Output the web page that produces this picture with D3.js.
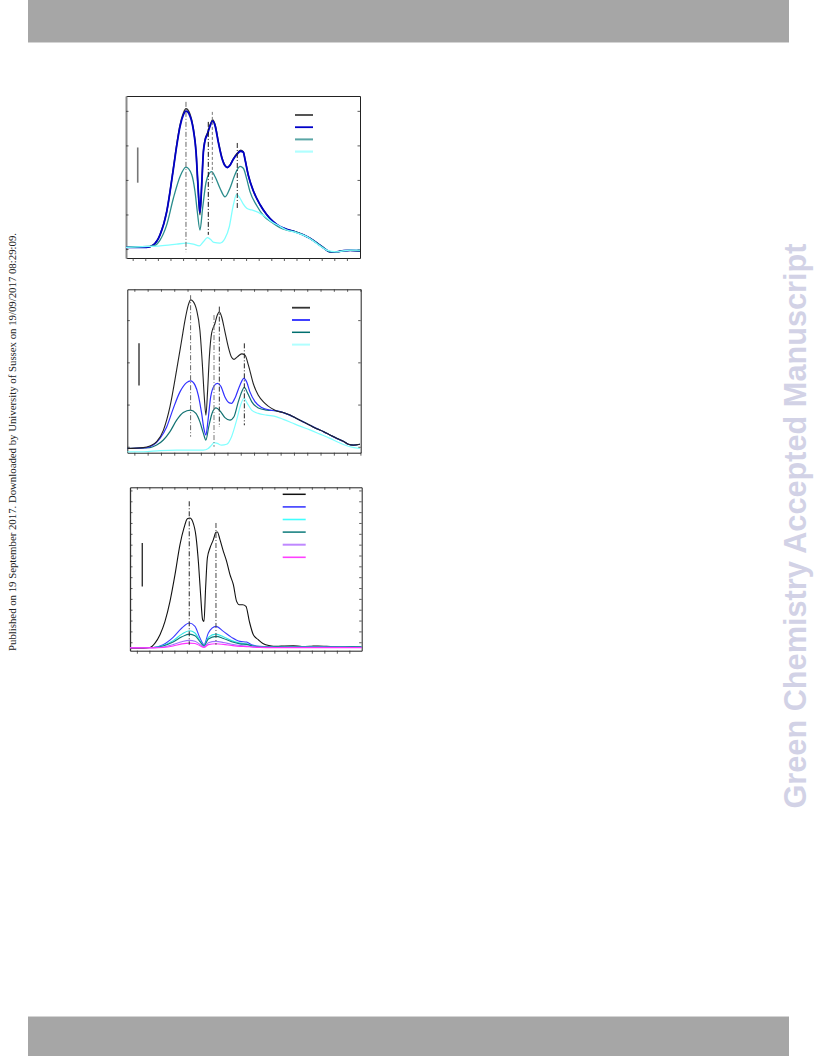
<!DOCTYPE html>
<html><head><meta charset="utf-8">
<script src="https://cdn.jsdelivr.net/npm/d3@7/dist/d3.min.js"></script>
<style>body{margin:0;background:#fff}</style>
</head><body>
<script>
// ---------------- DATA ----------------
const xTicks = [400,410,420,430,440,450,460,470,480,490,500,510,520,530,540,550,560,570];

// Panel 1
const p1WlA = [394.7,411.1,416.4,421.7,427.0,432.3,434.9,437.6,440.2,442.3,445.5,448.1,450.3,451.6,452.9,453.4,454.8,456.1,457.4,459.3,461.4,463.5,465.3,468.0,470.6,473.3,475.1,477.2,479.9,482.5,485.7,487.8,489.1,491.8,495.8,501.0,506.3,511.6,516.9,522.2,528.8,535.4,540.7,546.0,551.3,556.6,561.9,567.2,572.5,580.4];
const p1Black = [0.05,0.05,0.12,0.41,1.08,2.34,3.01,3.59,3.93,4.06,3.90,3.50,2.82,1.95,1.18,0.99,1.86,2.82,3.16,3.35,3.59,3.74,3.61,3.11,2.68,2.42,2.36,2.43,2.61,2.75,2.86,2.82,2.61,2.13,1.68,1.29,1.00,0.79,0.65,0.57,0.50,0.41,0.31,0.18,0.04,-0.08,-0.08,-0.05,-0.04,-0.05];
const p1Blue  = [0.05,0.05,0.12,0.41,1.08,2.32,2.98,3.55,3.88,3.99,3.85,3.46,2.80,1.98,1.22,1.06,1.88,2.80,3.13,3.32,3.56,3.70,3.58,3.08,2.66,2.41,2.36,2.42,2.60,2.73,2.83,2.80,2.60,2.13,1.68,1.29,1.00,0.79,0.65,0.57,0.50,0.41,0.31,0.18,0.04,-0.08,-0.08,-0.05,-0.04,-0.05];
const p1WlTeal = [394.7,416.4,421.7,427.0,432.3,437.6,442.3,446.8,449.4,451.3,453.4,455.5,458.2,460.8,462.7,465.3,469.3,473.3,477.2,481.2,485.2,487.8,490.5,493.1,498.4,503.7,511.6,516.9,522.2,528.8,535.4,540.7,546.0,551.3,556.6,561.9,567.2,572.5,580.4];
const p1Teal = [0.05,0.09,0.26,0.70,1.47,2.10,2.37,2.16,1.68,1.08,0.55,1.18,1.93,2.19,2.24,2.10,1.76,1.51,1.76,2.16,2.39,2.34,2.03,1.66,1.26,0.97,0.74,0.62,0.55,0.50,0.41,0.31,0.18,0.04,-0.08,-0.08,-0.05,-0.04,-0.05];
const p1WlCyan = [394.7,408.5,421.7,434.9,442.3,448.1,452.9,456.1,459.3,461.4,464.5,469.3,473.3,476.7,479.9,482.5,485.2,487.8,490.5,494.4,499.7,505.0,510.3,515.6,522.2,530.1,538.1,546.0,553.9,561.9,572.5,580.4];
const p1Cyan = [0.05,0.07,0.09,0.14,0.17,0.14,0.09,0.21,0.33,0.29,0.19,0.17,0.31,0.65,1.28,1.58,1.47,1.30,1.18,1.13,1.06,0.94,0.79,0.68,0.55,0.47,0.36,0.16,-0.03,-0.08,-0.03,-0.03];
const p1Marks = [[442.3,4.26,-0.09],[460.0,3.68,0.41],[463.2,3.97,1.91],[483.0,3.07,1.13]];
const p1Bar = [404.0,2.94,1.92];
const p1YTicks = [0,1,2,3,4];

// Panel 2
const p2WlBlack = [394.7,406.7,411.7,416.8,421.8,426.8,431.8,435.6,438.1,440.6,442.3,444.3,446.8,449.3,451.1,452.6,453.8,455.1,456.4,458.1,460.6,462.4,463.9,465.6,468.1,470.6,473.1,474.9,477.4,480.7,483.2,485.7,489.4,493.2,498.2,503.2,507.0,512.0,517.0,522.0,527.0,532.0,537.1,542.1,547.1,552.1,557.1,560.9,564.6,569.6];
const p2Black = [-0.04,-0.02,0.02,0.12,0.39,0.95,1.82,2.53,3.00,3.36,3.48,3.44,3.24,2.76,1.97,1.18,0.75,1.34,2.13,2.69,2.92,3.12,3.20,3.08,2.73,2.37,2.12,2.07,2.13,2.20,2.17,1.94,1.50,1.22,1.03,0.91,0.85,0.81,0.75,0.67,0.59,0.51,0.43,0.36,0.28,0.20,0.13,0.06,0.04,0.06];
const p2WlBlue = [394.7,409.2,414.2,419.3,424.3,429.3,434.3,439.3,442.3,445.6,448.1,450.6,452.3,453.8,455.4,457.4,459.9,462.4,464.9,468.1,471.4,473.1,475.6,479.4,482.4,484.4,486.9,490.7,495.7,502.0,507.0,512.0,517.0,522.0,527.0,532.0,537.1,542.1,547.1,552.1,557.1,560.9,564.6,569.6];
const p2Blue = [-0.04,-0.02,0.04,0.20,0.47,0.91,1.30,1.52,1.56,1.46,1.22,0.79,0.43,0.28,0.63,1.18,1.44,1.50,1.44,1.18,1.04,1.03,1.15,1.46,1.62,1.54,1.30,1.07,0.93,0.87,0.85,0.81,0.75,0.67,0.59,0.51,0.43,0.36,0.28,0.20,0.13,0.06,0.04,0.06];
const p2WlTeal = [394.7,411.7,416.8,421.8,426.8,431.8,436.8,442.3,446.3,449.3,451.8,453.8,455.9,458.4,461.4,464.4,468.1,471.9,474.9,478.2,480.7,482.7,485.0,488.2,493.2,499.5,507.0,512.0,517.0,522.0,527.0,532.0,537.1,542.1,547.1,552.1,557.1,560.9,564.6,569.6];
const p2Teal = [-0.04,-0.02,0.04,0.16,0.36,0.63,0.81,0.87,0.79,0.59,0.33,0.16,0.47,0.79,0.92,0.85,0.69,0.63,0.71,1.07,1.30,1.41,1.28,1.07,0.92,0.87,0.85,0.81,0.75,0.67,0.59,0.51,0.43,0.36,0.28,0.20,0.13,0.06,0.04,0.06];
const p2WlCyan = [394.7,406.7,419.3,431.8,444.3,451.8,455.6,458.1,459.9,462.4,465.6,469.4,473.1,476.9,479.9,482.4,484.9,488.2,493.2,499.5,507.0,512.0,518.3,524.5,532.0,539.6,547.1,554.6,562.1,569.6];
const p2Cyan = [-0.12,-0.12,-0.09,-0.08,-0.08,-0.08,-0.04,0.04,0.10,0.08,0.04,0.06,0.24,0.63,0.99,1.15,1.03,0.87,0.79,0.75,0.71,0.65,0.57,0.49,0.40,0.30,0.20,0.09,0.00,-0.04];
const p2Marks = [[442.3,3.59,0.24],[459.9,3.12,0.0],[463.9,3.32,0.47],[482.7,2.45,0.51]];
const p2Bar = [403.5,2.45,1.45];
const p2YTicks = [0,1,2,3];

// Panel 3
const p3WlBlack = [394.5,405.2,410.5,414.5,418.5,422.5,426.5,430.5,434.5,437.7,440.4,442.5,444.6,447.3,449.4,451.0,452.6,453.7,455.0,456.4,458.5,461.2,463.3,464.4,466.5,469.2,471.8,474.5,477.2,479.8,482.0,484.6,487.3,490.0,493.2,497.2,501.2,506.5,511.8,518,525.2,532,538.5,545,551.8,558,565.2,572,579.8];
const p3Black = [0.46,0.46,0.52,0.92,1.69,2.92,4.77,7.23,10.0,11.54,12.40,12.46,12.15,10.77,8.15,5.38,3.08,2.92,6.0,8.77,9.69,10.46,11.14,11.17,10.46,9.38,8.46,7.23,6.31,4.77,4.46,4.46,4.31,2.92,1.69,1.23,0.86,0.68,0.62,0.66,0.68,0.60,0.62,0.66,0.62,0.58,0.55,0.60,0.55];
const p3WlSmall = [394.5,413,421,429,436,442,446.5,450.5,453.7,457.2,463.3,469.2,475.8,482.5,487.8,491.8,498.5,510,540,579.8];
const p3Blue    = [0.52,0.52,0.77,1.45,2.31,2.77,2.46,1.38,0.77,1.85,2.46,2.00,1.45,1.08,1.02,0.77,0.62,0.55,0.58,0.55];
const p3Cyan    = [0.52,0.52,0.70,1.15,1.75,2.06,1.85,1.15,0.70,1.45,1.75,1.50,1.15,0.92,0.85,0.70,0.60,0.55,0.57,0.55];
const p3Teal    = [0.52,0.52,0.66,1.02,1.50,1.75,1.60,1.05,0.66,1.30,1.54,1.35,1.05,0.85,0.80,0.68,0.58,0.55,0.56,0.55];
const p3Purple  = [0.50,0.50,0.56,0.78,1.05,1.17,1.10,0.80,0.58,0.95,1.08,0.98,0.82,0.70,0.66,0.60,0.55,0.52,0.53,0.52];
const p3Magenta = [0.48,0.48,0.52,0.66,0.85,0.92,0.88,0.68,0.52,0.78,0.86,0.80,0.70,0.62,0.60,0.56,0.52,0.50,0.50,0.50];
const p3Marks = [[441.9,14.0,0.77],[463.3,12.0,0.77]];
const p3Bar = [404.3,10.15,6.15];
const p3YTicks = [1,2,3,4,5,6,7,8,9,10,11,12,13,14,15];

// ---------------- DRAW ----------------
const W = 816, H = 1056;
const svg = d3.select("body").append("svg").attr("width", W).attr("height", H);
svg.append("rect").attr("width", W).attr("height", H).attr("fill", "#fff");

// header / footer bars
svg.append("rect").attr("x", 28).attr("y", 0).attr("width", 761).attr("height", 42).attr("fill", "#a6a6a6");
svg.append("line").attr("x1", 28).attr("x2", 789).attr("y1", 42.5).attr("y2", 42.5).attr("stroke", "#d4d4d4");
svg.append("rect").attr("x", 28).attr("y", 1017).attr("width", 761).attr("height", 39).attr("fill", "#a6a6a6");
svg.append("line").attr("x1", 28).attr("x2", 789).attr("y1", 1016.5).attr("y2", 1016.5).attr("stroke", "#d4d4d4");

// side texts
svg.append("text").attr("transform", "translate(16,442) rotate(-90)")
  .attr("text-anchor", "middle").attr("font-family", "Liberation Serif, serif").attr("font-size", 10)
  .attr("textLength", 418).attr("lengthAdjust", "spacingAndGlyphs").attr("fill", "#222")
  .text("Published on 19 September 2017. Downloaded by University of Sussex on 19/09/2017 08:29:09.");
svg.append("text").attr("transform", "translate(806,526) rotate(-90)")
  .attr("text-anchor", "middle").attr("font-family", "Liberation Sans, Arial, sans-serif").attr("font-weight", "bold")
  .attr("font-size", 31).attr("textLength", 565).attr("lengthAdjust", "spacingAndGlyphs").attr("fill", "#d2d2e6")
  .text("Green Chemistry Accepted Manuscript");

function drawPanel(cfg, idx) {
  const x = d3.scaleLinear().domain(cfg.xDomain).range([cfg.left, cfg.right]);
  const y = d3.scaleLinear().domain(cfg.yDomain).range([cfg.bottom, cfg.top]);
  const g = svg.append("g");
  const clipId = "clip" + idx;
  g.append("clipPath").attr("id", clipId).append("rect")
    .attr("x", cfg.left).attr("y", cfg.top).attr("width", cfg.right - cfg.left).attr("height", cfg.bottom - cfg.top);

  const styleAxis = (sel, color, width) => {
    sel.selectAll("path").attr("stroke", color).attr("stroke-width", width);
    sel.selectAll("line").attr("stroke", "#333").attr("stroke-width", 0.8);
  };
  // bottom (outward ticks)
  g.append("g").attr("transform", `translate(0,${cfg.bottom})`)
    .call(d3.axisBottom(x).tickValues(xTicks).tickSize(3).tickSizeOuter(0).tickFormat(""))
    .call(s => styleAxis(s, "#222", 1));
  // top
  g.append("g").attr("transform", `translate(0,${cfg.top})`)
    .call(d3.axisBottom(x).tickValues(cfg.topTicks ? xTicks : []).tickSize(cfg.topTicks ? 2.5 : 0).tickSizeOuter(0).tickFormat(""))
    .call(s => styleAxis(s, "#222", 1));
  // left (inward ticks)
  g.append("g").attr("transform", `translate(${cfg.left},0)`)
    .call(d3.axisRight(y).tickValues(cfg.yTicks).tickSize(2.5).tickSizeOuter(0).tickFormat(""))
    .call(s => styleAxis(s, cfg.leftColor, cfg.leftWidth));
  // right (inward ticks)
  g.append("g").attr("transform", `translate(${cfg.right},0)`)
    .call(d3.axisLeft(y).tickValues(cfg.yTicks).tickSize(2.5).tickSizeOuter(0).tickFormat(""))
    .call(s => styleAxis(s, "#222", 1));

  const line = d3.line().x(d => x(d[0])).y(d => y(d[1])).curve(d3.curveMonotoneX);
  const plot = g.append("g").attr("clip-path", `url(#${clipId})`);
  cfg.series.forEach(s => {
    plot.append("path").datum(d3.zip(s.wl, s.v)).attr("d", line)
      .attr("fill", "none").attr("stroke", s.color).attr("stroke-width", s.width).attr("stroke-linejoin", "round");
  });

  // dash-dot marker lines
  cfg.marks.forEach((m, i) => {
    g.append("line").attr("x1", x(m[0])).attr("x2", x(m[0])).attr("y1", y(m[1])).attr("y2", y(m[2]))
      .attr("stroke", cfg.markColors[i]).attr("stroke-width", 1).attr("stroke-dasharray", cfg.markDash[i]);
  });

  // scale bar
  g.append("line").attr("x1", x(cfg.bar[0])).attr("x2", x(cfg.bar[0])).attr("y1", y(cfg.bar[1])).attr("y2", y(cfg.bar[2]))
    .attr("stroke", cfg.barColor).attr("stroke-width", cfg.barWidth);

  // legend
  cfg.series.slice().sort((a, b) => a.legendOrder - b.legendOrder).forEach((s, i) => {
    const ly = cfg.legendY + i * cfg.legendStep;
    g.append("line").attr("x1", cfg.legendX).attr("x2", cfg.legendX + cfg.legendLen).attr("y1", ly).attr("y2", ly)
      .attr("stroke", s.legendColor || s.color).attr("stroke-width", s.legendWidth || 1.5);
  });
}

drawPanel({
  xDomain: [394.7, 580.4], yDomain: [-0.26, 4.43],
  left: 126, right: 360, top: 96, bottom: 258,
  yTicks: p1YTicks, topTicks: false, leftColor: "#8a8a8a", leftWidth: 2,
  series: [
    {wl: p1WlA, v: p1Black, color: "#333", width: 1.4, legendOrder: 0, legendColor: "#555", legendWidth: 2},
    {wl: p1WlA, v: p1Blue, color: "#0000c8", width: 1.8, legendOrder: 1, legendWidth: 1.8},
    {wl: p1WlTeal, v: p1Teal, color: "#2a8c8c", width: 1.3, legendOrder: 2, legendColor: "#5aa6a6", legendWidth: 2},
    {wl: p1WlCyan, v: p1Cyan, color: "#80ffff", width: 1.3, legendOrder: 3, legendColor: "#b0ffff", legendWidth: 2.2}
  ],
  marks: p1Marks, markColors: ["#666", "#111", "#777", "#222"],
  markDash: ["5,2,1,2", "5,2,1,2", "3,2", "5,2,1,2"],
  bar: p1Bar, barColor: "#777", barWidth: 1.6,
  legendX: 295, legendLen: 18, legendY: 115, legendStep: 12.2
}, 1);

drawPanel({
  xDomain: [394.7, 570.2], yDomain: [-0.14, 3.73],
  left: 127.3, right: 360.7, top: 289.3, bottom: 452.7,
  yTicks: p2YTicks, topTicks: true, leftColor: "#222", leftWidth: 1,
  series: [
    {wl: p2WlCyan, v: p2Cyan, color: "#80ffff", width: 1.2, legendOrder: 3, legendColor: "#b0ffff", legendWidth: 2},
    {wl: p2WlTeal, v: p2Teal, color: "#137272", width: 1.2, legendOrder: 2, legendColor: "#006f6f", legendWidth: 1.5},
    {wl: p2WlBlue, v: p2Blue, color: "#3030ff", width: 1.2, legendOrder: 1, legendColor: "#4040ff", legendWidth: 2},
    {wl: p2WlBlack, v: p2Black, color: "#222", width: 1.1, legendOrder: 0, legendColor: "#333", legendWidth: 1.8}
  ],
  marks: p2Marks, markColors: ["#666", "#777", "#333", "#222"],
  markDash: ["5,2,1,2", "5,2,1,2", "5,2,1,2", "5,2,1,2"],
  bar: p2Bar, barColor: "#111", barWidth: 1.2,
  legendX: 292, legendLen: 18, legendY: 307.7, legendStep: 12.3
}, 2);

drawPanel({
  xDomain: [394.5, 579.9], yDomain: [0.22, 15.29],
  left: 130, right: 361.7, top: 487.3, bottom: 650.7,
  yTicks: p3YTicks, topTicks: true, leftColor: "#333", leftWidth: 1.3,
  series: [
    {wl: p3WlBlack, v: p3Black, color: "#111", width: 1.1, legendOrder: 0, legendWidth: 1.5},
    {wl: p3WlSmall, v: p3Blue, color: "#3c3cff", width: 1.1, legendOrder: 1, legendWidth: 1.6},
    {wl: p3WlSmall, v: p3Cyan, color: "#30e6e6", width: 1.1, legendOrder: 2, legendColor: "#40ffff", legendWidth: 1.6},
    {wl: p3WlSmall, v: p3Teal, color: "#0c7a7a", width: 1.1, legendOrder: 3, legendWidth: 1.5},
    {wl: p3WlSmall, v: p3Purple, color: "#a070ff", width: 1.1, legendOrder: 4, legendColor: "#bf88ff", legendWidth: 2},
    {wl: p3WlSmall, v: p3Magenta, color: "#ff30ff", width: 1.1, legendOrder: 5, legendColor: "#ff40ff", legendWidth: 1.6}
  ],
  marks: p3Marks, markColors: ["#222", "#444"],
  markDash: ["5,2,1,2", "5,2,1,2"],
  bar: p3Bar, barColor: "#111", barWidth: 1.2,
  legendX: 282.7, legendLen: 23, legendY: 494.3, legendStep: 12.6
}, 3);
</script>
</body></html>
